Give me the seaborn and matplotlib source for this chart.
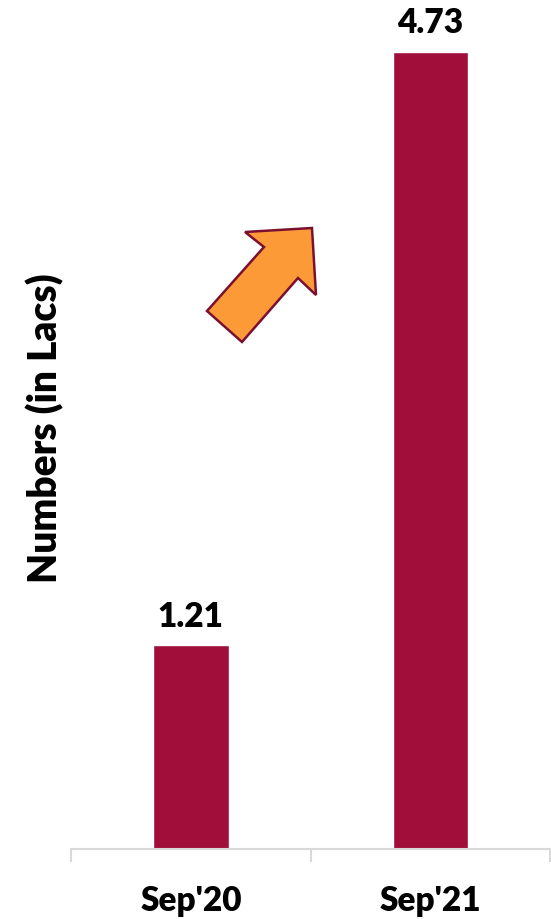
import matplotlib
matplotlib.use("Agg")
import matplotlib.pyplot as plt
import seaborn as sns
import pandas as pd
from matplotlib.patches import Polygon

# --- DATA ---
months = ["Sep'20", "Sep'21"]
numbers_lacs = [1.21, 4.73]

df = pd.DataFrame({"month": months, "value": numbers_lacs})

# --- STYLE ---
sns.set_theme(style="white")
plt.rcParams["font.family"] = ["Lato", "DejaVu Sans"]
plt.rcParams["font.weight"] = "heavy"
plt.rcParams["text.color"] = "black"
plt.rcParams["axes.labelcolor"] = "black"
plt.rcParams["xtick.color"] = "black"

bar_color = "#A10E3A"

fig = plt.figure(figsize=(5.51, 9.19), dpi=100)
ax = fig.add_axes([71 / 551, 70 / 919, 480 / 551 - 0.001, 842.5 / 919])

sns.barplot(data=df, x="month", y="value", color=bar_color, width=0.316,
            saturation=1, ax=ax)

ax.set_ylim(0, 5)
ax.set_xlim(-0.5, 1.5)
ax.set_yticks([])

# value labels on top of bars
ax.bar_label(ax.containers[0], labels=[f"{v:.2f}" for v in numbers_lacs],
             padding=9, fontsize=24, fontweight="heavy", color="black")

# axis styling
for side in ["top", "right", "left"]:
    ax.spines[side].set_visible(False)
ax.spines["bottom"].set_color("#D9D9D9")
ax.spines["bottom"].set_linewidth(1.5)
ax.set_xticks([-0.5, 0.5, 1.5], minor=True)
ax.tick_params(axis="x", which="minor", length=9, width=1.5, color="#D9D9D9",
               direction="out", bottom=True)
ax.tick_params(axis="x", which="major", length=0, pad=26, labelsize=24,
               labelcolor="black")
for lbl in ax.get_xticklabels():
    lbl.set_fontweight("heavy")
ax.set_xlabel("")
ax.set_ylabel("Numbers (in Lacs)", fontsize=28, fontweight="heavy",
              color="black", labelpad=5)

# decorative upward arrow (in figure pixel space)
W, H = 551, 919
arrow_px = [(245, 232), (312, 228), (316, 295), (298, 278),
            (242, 342), (207, 311), (264, 247)]
arrow = Polygon([(x / W, 1 - y / H) for x, y in arrow_px], closed=True,
                transform=fig.transFigure, facecolor="#FD9A38",
                edgecolor="#7A1030", linewidth=1.8, zorder=5)
fig.patches.append(arrow)

fig.savefig("out.png", dpi=100)
